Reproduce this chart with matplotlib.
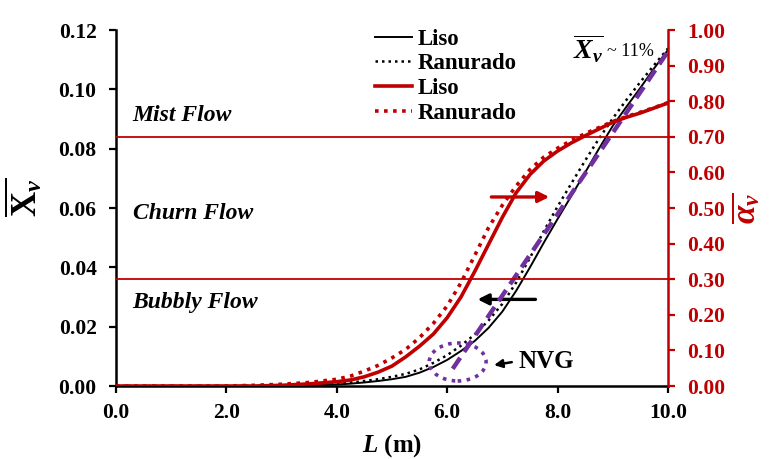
import numpy as np
import matplotlib
matplotlib.use("Agg")
import matplotlib.pyplot as plt
from matplotlib.patches import Ellipse

plt.rcParams['font.family'] = 'Liberation Serif'
plt.rcParams['font.weight'] = 'bold'
plt.rcParams['axes.labelweight'] = 'bold'
plt.rcParams['mathtext.fontset'] = 'custom'
plt.rcParams['mathtext.rm'] = 'Liberation Serif:bold'
plt.rcParams['mathtext.it'] = 'Liberation Serif:bold:italic'
plt.rcParams['mathtext.bf'] = 'Liberation Serif:bold'

RED = '#C00000'
PURPLE = '#7030A0'

## Vapour quality along the tube (left axis)
L = [0, 1, 2, 3, 3.5, 4, 4.25, 4.5, 4.75, 5, 5.25, 5.5, 5.75, 6, 6.25, 6.5,
     6.75, 7, 7.25, 7.5, 7.75, 8, 8.25, 8.5, 8.75, 9, 9.25, 9.5, 9.75, 10]
xv_liso = [0, 0, 0, 0, 0.0002, 0.0005, 0.0008, 0.0012, 0.0017, 0.0023, 0.0031,
           0.0045, 0.0064, 0.0088, 0.0118, 0.0152, 0.0196, 0.0251, 0.0321,
           0.0400, 0.0483, 0.0563, 0.0641, 0.0720, 0.0800, 0.0877, 0.0942,
           0.1005, 0.1071, 0.1133]
xv_ranurado = [0, 0, 0, 0.0002, 0.0004, 0.0008, 0.0012, 0.0017, 0.0023, 0.0031,
               0.0041, 0.0056, 0.0078, 0.0104, 0.0136, 0.0174, 0.0221, 0.0277,
               0.0349, 0.0432, 0.0522, 0.0605, 0.0683, 0.0760, 0.0834, 0.0902,
               0.0965, 0.1025, 0.1082, 0.1138]

## Void fraction along the tube (right axis)
L_a = [0, 1, 2, 2.5, 3, 3.5, 4, 4.25, 4.5, 4.75, 5, 5.25, 5.5, 5.75, 6, 6.25,
       6.5, 6.75, 7, 7.25, 7.5, 7.75, 8, 8.25, 8.5, 8.75, 9, 9.25, 9.5, 9.75, 10]
alpha_liso = [0, 0, 0, 0, 0.002, 0.006, 0.012, 0.017, 0.026, 0.039, 0.056,
              0.082, 0.112, 0.146, 0.192, 0.250, 0.322, 0.398, 0.474, 0.543,
              0.594, 0.632, 0.660, 0.683, 0.703, 0.722, 0.741, 0.755, 0.767,
              0.781, 0.795]
alpha_ranurado = [0, 0, 0, 0.002, 0.005, 0.010, 0.019, 0.028, 0.042, 0.058,
                  0.079, 0.103, 0.136, 0.176, 0.225, 0.290, 0.367, 0.445, 0.508,
                  0.562, 0.608, 0.643, 0.668, 0.690, 0.709, 0.726, 0.743, 0.757,
                  0.769, 0.782, 0.796]

## Linear trend after net vapour generation
nvg_L = [6.1, 10.0]
nvg_xv = [0.0058, 0.1128]

## Flow regime limits (void fraction)
regime_limits = [0.30, 0.70]
regime_names = ['Mist Flow', 'Churn Flow', 'Bubbly Flow']
regime_y = [0.0913, 0.058, 0.0283]

fig = plt.figure(figsize=(7.7, 4.59), dpi=100)
ax = fig.add_axes([0.1506, 0.159, 0.7169, 0.7756])
ax2 = ax.twinx()

h1, = ax.plot(L, xv_liso, color='black', lw=1.4, label='Liso')
h2, = ax.plot(L, xv_ranurado, color='black', lw=1.8, ls=(0, (1, 1.6)), label='Ranurado')
ax.plot(nvg_L, nvg_xv, color=PURPLE, lw=3.2, ls=(0, (3, 1.6)), zorder=4)

h3, = ax2.plot(L_a, alpha_liso, color=RED, lw=2.6, label='Liso')
h4, = ax2.plot(L_a, alpha_ranurado, color=RED, lw=2.6, ls=(0, (1, 1.5)), label='Ranurado')
for lim in regime_limits:
    ax2.axhline(lim, color=RED, lw=1.3)

ax.set_xlim(0, 10)
ax.set_ylim(0, 0.12)
ax2.set_ylim(0, 1.0)
ax.set_xticks(np.arange(0, 10.1, 2))
ax.set_xticklabels([f'{v:.1f}' for v in np.arange(0, 10.1, 2)])
ax.set_yticks(np.arange(0, 0.121, 0.02))
ax.set_yticklabels([f'{v:.2f}' for v in np.arange(0, 0.121, 0.02)])
ax2.set_yticks(np.arange(0, 1.01, 0.1))
ax2.set_yticklabels([f'{v:.2f}' for v in np.arange(0, 1.01, 0.1)])

for a in (ax, ax2):
    a.spines['top'].set_visible(False)
ax.spines['right'].set_visible(False)
ax.spines['left'].set_linewidth(1.8)
ax.spines['bottom'].set_linewidth(1.8)
ax2.spines['left'].set_visible(False)
ax2.spines['bottom'].set_visible(False)
ax2.spines['right'].set_color(RED)
ax2.spines['right'].set_linewidth(1.8)

ax.tick_params(axis='y', direction='out', length=5, width=1.6, labelsize=15.5, pad=9)
ax.tick_params(axis='x', direction='out', length=5, width=1.6, labelsize=15.5, pad=7)
ax2.tick_params(direction='out', length=5, width=1.6, labelsize=15.5,
                colors=RED, pad=9)

ax.set_xlabel(r'$L$ (m)', fontsize=18, weight='bold')
ax.xaxis.set_label_coords(0.5, -0.13)
ax.set_ylabel(r'$\overline{\mathrm{X}_v}$', fontsize=25)
ax.yaxis.set_label_coords(-0.129, 0.531)
ax2.set_ylabel(r'$\overline{\alpha_v}$', fontsize=24, color=RED, rotation=90)
ax2.yaxis.set_label_coords(1.112, 0.5)

for name, yy in zip(regime_names, regime_y):
    ax.text(0.3, yy, name, fontsize=17, style='italic', weight='bold',
            va='center', ha='left')

ax.text(8.28, 0.1135, r'$\overline{X_v}$', fontsize=20, va='center', ha='left')
ax.text(8.9, 0.1128, '~ 11%', fontsize=13, weight='normal', va='center', ha='left')

# arrows pointing each family of curves to its axis
ax2.annotate('', xy=(7.9, 0.531), xytext=(6.75, 0.531),
             arrowprops=dict(arrowstyle='-|>', color=RED, lw=2.4,
                             mutation_scale=16))
ax.annotate('', xy=(6.5, 0.0292), xytext=(7.65, 0.0292),
            arrowprops=dict(arrowstyle='-|>', color='black', lw=2.4,
                            mutation_scale=16))

# onset of net vapour generation
ax.add_patch(Ellipse((6.19, 0.0081), 1.03, 0.0128, fill=False, ec=PURPLE,
                     lw=2.6, ls=(0, (1, 1.5)), zorder=5))
ax.annotate('', xy=(6.8, 0.0069), xytext=(7.22, 0.0082),
            arrowprops=dict(arrowstyle='-|>', color='black', lw=1.8,
                            mutation_scale=12))
ax.text(7.3, 0.0081, 'NVG', fontsize=18, va='center', ha='left')

ax2.legend(handles=[h1, h2, h3, h4], loc='upper left',
           bbox_to_anchor=(0.469, 1.004), frameon=False, fontsize=16.5,
           handlelength=1.6, handletextpad=0.25, labelspacing=0.16,
           borderaxespad=0, borderpad=0)

fig.savefig('out.png', dpi=100)
